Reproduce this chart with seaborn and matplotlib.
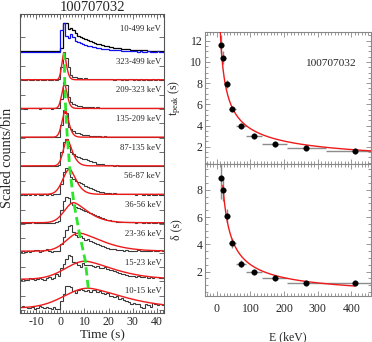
import numpy as np
import matplotlib
matplotlib.use("Agg")
import matplotlib.pyplot as plt
from matplotlib.ticker import MultipleLocator, AutoMinorLocator, FixedLocator, NullFormatter
import seaborn as sns

# ---------------- data ----------------
grb_id = "100707032"
t_start, t_stop, t_bin = -17, 43, 1

total_label = "10-499 keV"
band_labels = ["10-15 keV", "15-23 keV", "23-36 keV", "36-56 keV", "56-87 keV",
               "87-135 keV", "135-209 keV", "209-323 keV", "323-499 keV"]
E_lo = [10, 15, 23, 36, 56, 87, 135, 209, 323]
E_hi = [15, 23, 36, 56, 87, 135, 209, 323, 499]

lc_total = [0.02, 0.03, 0.02, 0.01, 0.03, 0.02, 0.02, 0.03, 0.01, 0.02, 0.03, 0.02, 0.02, 0.01, 0.03, 0.02, 0.03,
            0.12, 1.0, 0.98, 0.80, 0.83, 0.76, 0.65, 0.56, 0.52, 0.47, 0.43, 0.40, 0.37, 0.33, 0.31, 0.28, 0.26,
            0.23, 0.21, 0.19, 0.17, 0.15, 0.14, 0.12, 0.11, 0.10, 0.09, 0.08, 0.08, 0.07, 0.06, 0.06, 0.05, 0.05,
            0.04, 0.04, 0.03, 0.03, 0.03, 0.02, 0.03, 0.02, 0.02]
lc_total_blue = [-0.01, -0.02, -0.01, -0.01, -0.02, -0.01, -0.02, -0.01, -0.01, -0.02, -0.01, -0.01, -0.02, -0.01,
                 -0.01, -0.02, -0.01,
                 0.76, 1.0, 0.55, 0.48, 0.62, 0.50, 0.38, 0.33, 0.29, 0.25, 0.22, 0.20, 0.18, 0.16, 0.15, 0.13,
                 0.12, 0.10, 0.09, 0.08, 0.07, 0.06, 0.05, 0.04, 0.04, 0.03, 0.03, 0.02, 0.02, 0.01,
                 0.01, 0.01, 0.0, 0.01, 0.0, 0.0, 0.01, 0.0, 0.0, 0.0, 0.01, 0.0, 0.0]

lc_10_15 = [0.12, 0.15, 0.10, 0.08, 0.06, 0.12, 0.05, 0.08, 0.15, 0.10, 0.06, 0.12, 0.08, 0.04, 0.10, 0.02, 0.05,
            0.30, 0.55, 0.82, 0.85, 0.80, 0.65, 0.60, 0.70, 0.72, 0.68, 0.66, 0.70, 0.64, 0.68, 0.70, 0.62, 0.66,
            0.60, 0.55, 0.58, 0.50, 0.47, 0.44, 0.48, 0.40, 0.42, 0.35, 0.30, 0.28, 0.22, 0.25, 0.20, 0.22, 0.12,
            0.06, 0.22, 0.18, 0.12, 0.25, 0.20, 0.16, 0.20, 0.18]
lc_15_23 = [0.05, 0.08, 0.04, 0.06, 0.10, 0.07, 0.05, 0.09, 0.12, 0.08, 0.06, 0.10, 0.15, 0.09, 0.12, 0.27, 0.20,
            0.45, 0.60, 0.78, 0.92, 0.88, 0.68, 0.62, 0.55, 0.50, 0.62, 0.58, 0.55, 0.57, 0.54, 0.50, 0.52, 0.47,
            0.45, 0.48, 0.42, 0.38, 0.40, 0.35, 0.32, 0.30, 0.27, 0.25, 0.22, 0.20, 0.18, 0.20, 0.16, 0.18, 0.14,
            0.15, 0.20, 0.13, 0.15, 0.12, 0.14, 0.16, 0.12, 0.13]
lc_23_36 = [0.03, 0.05, 0.02, 0.04, 0.03, 0.06, 0.10, 0.08, 0.03, 0.05, 0.10, 0.12, 0.04, 0.03, 0.06, 0.05, 0.04,
            0.30, 0.55, 0.80, 0.92, 0.95, 0.70, 0.62, 0.55, 0.58, 0.50, 0.45, 0.48, 0.40, 0.38, 0.34, 0.30, 0.28,
            0.22, 0.20, 0.17, 0.14, 0.12, 0.13, 0.10, 0.09, 0.10, 0.07, 0.08, 0.06, 0.07, 0.05, 0.06, 0.08, 0.05,
            0.07, 0.06, 0.04, 0.06, 0.10, 0.07, 0.05, 0.08, 0.06]
lc_36_56 = [0.03, 0.02, 0.04, 0.02, 0.03, 0.05, 0.02, 0.03, 0.04, 0.02, 0.03, 0.04, 0.03, 0.02, 0.04, 0.05, 0.10,
            0.50, 0.80, 0.92, 0.90, 0.74, 0.65, 0.60, 0.56, 0.52, 0.48, 0.45, 0.42, 0.37, 0.33, 0.30, 0.27, 0.24,
            0.20, 0.17, 0.15, 0.12, 0.10, 0.09, 0.08, 0.08, 0.07, 0.06, 0.07, 0.05, 0.06, 0.05, 0.04, 0.05, 0.06,
            0.04, 0.05, 0.04, 0.05, 0.04, 0.04, 0.05, 0.04, 0.04]
lc_56_87 = [0.02, 0.03, 0.01, 0.03, 0.02, 0.04, 0.02, 0.03, 0.02, 0.01, 0.03, 0.02, 0.04, 0.02, 0.03, 0.03, 0.05,
            0.40, 0.80, 0.95, 0.90, 0.62, 0.55, 0.50, 0.47, 0.44, 0.38, 0.33, 0.30, 0.25, 0.20, 0.17, 0.15, 0.12,
            0.10, 0.08, 0.07, 0.06, 0.05, 0.06, 0.04, 0.05, 0.04, 0.03, 0.04, 0.03, 0.04, 0.03, 0.02, 0.03, 0.03,
            0.02, 0.03, 0.02, 0.03, 0.02, 0.02, 0.03, 0.02, 0.02]
lc_87_135 = [0.02, 0.03, 0.02, 0.01, 0.03, 0.02, 0.02, 0.03, 0.01, 0.02, 0.03, 0.02, 0.02, 0.03, 0.02, 0.03, 0.04,
             0.50, 0.85, 0.96, 0.70, 0.50, 0.42, 0.35, 0.32, 0.30, 0.27, 0.25, 0.22, 0.20, 0.17, 0.14, 0.10, 0.08,
             0.07, 0.06, 0.05, 0.04, 0.05, 0.03, 0.04, 0.03, 0.03, 0.02, 0.03, 0.02, 0.03, 0.02, 0.02, 0.03, 0.02,
             0.02, 0.03, 0.02, 0.02, 0.01, 0.02, 0.02, 0.01, 0.02]
lc_135_209 = [0.02, 0.01, 0.03, 0.02, 0.02, 0.03, 0.01, 0.02, 0.03, 0.02, 0.01, 0.02, 0.03, 0.02, 0.02, 0.01, 0.03,
              0.45, 0.97, 0.85, 0.36, 0.30, 0.22, 0.18, 0.15, 0.13, 0.11, 0.09, 0.08, 0.07, 0.06, 0.06, 0.05, 0.05,
              0.04, 0.05, 0.04, 0.03, 0.04, 0.03, 0.03, 0.02, 0.03, 0.04, 0.02, 0.03, 0.02, 0.03, 0.03, 0.02, 0.03,
              0.02, 0.02, 0.03, 0.02, 0.02, 0.03, 0.02, 0.02, 0.03]
lc_209_323 = [0.02, 0.03, 0.01, 0.02, 0.03, 0.02, 0.04, 0.02, 0.01, 0.03, 0.02, 0.02, 0.03, 0.01, 0.02, 0.03, 0.04,
              0.35, 0.95, 0.82, 0.42, 0.24, 0.16, 0.13, 0.11, 0.09, 0.08, 0.07, 0.08, 0.06, 0.07, 0.05, 0.06, 0.05,
              0.04, 0.05, 0.04, 0.03, 0.04, 0.03, 0.02, 0.04, 0.03, 0.02, 0.03, 0.03, 0.02, 0.04, 0.02, 0.03, 0.02,
              0.03, 0.03, 0.02, 0.03, 0.02, 0.02, 0.03, 0.02, 0.03]
lc_323_499 = [0.03, 0.01, 0.02, 0.04, 0.02, 0.01, 0.03, 0.02, 0.04, 0.01, 0.02, 0.03, 0.02, 0.01, 0.03, 0.02, 0.05,
              0.45, 0.97, 0.78, 0.45, 0.20, 0.12, 0.10, 0.08, 0.07, 0.06, 0.07, 0.05, 0.06, 0.04, 0.05, 0.06, 0.04,
              0.05, 0.03, 0.04, 0.03, 0.04, 0.02, 0.03, 0.04, 0.02, 0.03, 0.02, 0.03, 0.04, 0.02, 0.03, 0.02, 0.03,
              0.02, 0.03, 0.02, 0.02, 0.03, 0.02, 0.03, 0.02, 0.02]
band_curves = [lc_10_15, lc_15_23, lc_23_36, lc_36_56, lc_56_87,
               lc_87_135, lc_135_209, lc_209_323, lc_323_499]

# pulse-fit results per band (low -> high energy)
t_peak = [11.6, 10.4, 7.9, 5.6, 3.95, 2.98, 2.25, 1.85, 1.62]
t_peak_err = [0.9, 0.6, 0.35, 0.25, 0.2, 0.15, 0.12, 0.1, 0.1]
delta = [8.86, 8.0, 6.11, 4.08, 2.58, 1.95, 1.51, 1.18, 1.14]
delta_err = [1.5, 0.8, 0.5, 0.35, 0.25, 0.15, 0.12, 0.1, 0.1]
pulse_amp = [0.69, 0.63, 0.63, 0.70, 0.88, 0.92, 0.92, 0.85, 0.94]
pulse_bg = [0.07, 0.07, 0.05, 0.04, 0.03, 0.02, 0.02, 0.02, 0.02]
pulse_rise = [14.0, 11.5, 7.4, 5.4, 4.0, 2.4, 2.1, 1.7, 1.33]
pulse_decay = [21.0, 17.0, 13.5, 8.3, 3.8, 2.9, 1.9, 1.5, 1.35]

# power-law fits  y = A * E^-k
tpk_fit_A, tpk_fit_k, tpk_fit_range = 46.4, 0.549, (10, 460)
dlt_fit_A, dlt_fit_k, dlt_fit_range = 63.0, 0.70, (18, 410)

# ---------------- style ----------------
sns.set_theme(style="ticks")
plt.rcParams["font.family"] = ["Liberation Serif", "DejaVu Serif"]
plt.rcParams["mathtext.fontset"] = "custom"
plt.rcParams["mathtext.rm"] = "Liberation Serif"
plt.rcParams["mathtext.it"] = "Liberation Serif:italic"
plt.rcParams["axes.unicode_minus"] = False

W, H = 372, 342
fig = plt.figure(figsize=(W / 100, H / 100), dpi=100)


def fig_rect(x0, y0, x1, y1):
    return [x0 / W, 1 - y1 / H, (x1 - x0) / W, (y1 - y0) / H]


frame_col = "#555555"
right_col = "#888888"
red = "#ee1a1a"

# ---------------- left panel ----------------
axL = fig.add_axes(fig_rect(20, 14, 164, 313))
edges = np.arange(t_start, t_stop + t_bin, t_bin)
n_b = len(band_curves)
off_total = n_b

axL.stairs(np.array(lc_total) + off_total, edges, baseline=None, color="black", lw=0.9)
axL.stairs(np.array(lc_total_blue) + off_total, edges, baseline=None, color="#1010ee", lw=0.9)
axL.text(41.9, off_total + 0.8, total_label, ha="right", va="center", fontsize=6.2)

tt = np.linspace(t_start, t_stop, 500)
peak_y = []
for k in range(n_b):
    axL.stairs(np.array(band_curves[k]) + k, edges, baseline=None, color="#3a3a3a", lw=0.8)
    d = tt - t_peak[k]
    shape = np.where(d < 0, np.exp(-(np.abs(d) / pulse_rise[k]) ** 2),
                     np.exp(-(np.abs(d) / pulse_decay[k]) ** 1.5))
    sns.lineplot(x=tt, y=k + pulse_bg[k] + pulse_amp[k] * shape, ax=axL, color=red, lw=1.0,
                 sort=False, estimator=None)
    peak_y.append(k + pulse_bg[k] + pulse_amp[k])
    axL.text(41.9, k + 0.65, band_labels[k], ha="right", va="center", fontsize=6.2)

sns.lineplot(x=t_peak, y=peak_y, ax=axL, color="#2ce62c", lw=2.0, sort=False, estimator=None,
             dashes=False, linestyle=(0, (3, 1.6)))

axL.set_xlim(-16.7, 43)
axL.set_ylim(-0.105, n_b + 1.31)
axL.xaxis.set_major_locator(MultipleLocator(10))
axL.xaxis.set_minor_locator(AutoMinorLocator(8))
yt = []
for k in range(n_b + 1):
    yt += [k, k + 0.5]
axL.yaxis.set_major_locator(FixedLocator(yt))
axL.yaxis.set_major_formatter(NullFormatter())
axL.tick_params(axis="both", which="both", direction="in", top=True, right=True,
                color=frame_col, width=0.6, labelsize=8.5, pad=2)
axL.tick_params(which="major", length=3.5)
axL.tick_params(which="minor", length=2)
for s in axL.spines.values():
    s.set_color(frame_col)
    s.set_linewidth(0.8)
axL.set_xlabel("")
axL.set_ylabel("")

fig.text(92 / W, 1 - 7.5 / H, grb_id, ha="center", va="center", fontsize=10.5)
fig.text(8 / W, 1 - 158 / H, "Scaled counts/bin", rotation=90, ha="center", va="center", fontsize=10.2)
fig.text(102 / W, 1 - 335.5 / H, "Time (s)", ha="center", va="center", fontsize=9.5)

# ---------------- right panels ----------------
E_mid = [(lo + hi) / 2 for lo, hi in zip(E_lo, E_hi)]
E_half = [(hi - lo) / 2 for lo, hi in zip(E_lo, E_hi)]

axT = fig.add_axes(fig_rect(205, 32, 371, 164))
axB = fig.add_axes(fig_rect(205, 164, 371, 296), sharex=axT)

for ax, yv, ye, (A, kk, rng), ylim, ylab in [
        (axT, t_peak, t_peak_err, (tpk_fit_A, tpk_fit_k, tpk_fit_range), (0.37, 12.82),
         "t$_{\\mathrm{peak}}$ (s)"),
        (axB, delta, delta_err, (dlt_fit_A, dlt_fit_k, dlt_fit_range), (0.2, 9.9), "δ (s)")]:
    ax.errorbar(E_mid, yv, xerr=E_half, yerr=ye, fmt="none", ecolor="#8c8c8c", elinewidth=1.0,
                capsize=0, zorder=2)
    Ef = np.linspace(rng[0], rng[1], 300)
    sns.lineplot(x=Ef, y=A * Ef ** (-kk), ax=ax, color=red, lw=1.0, sort=False, estimator=None, zorder=3)
    sns.scatterplot(x=E_mid, y=yv, ax=ax, color="black", s=16, edgecolor="black", linewidth=0.3, zorder=4)
    ax.set_ylim(*ylim)
    ax.set_xlim(-35, 458)
    ax.xaxis.set_major_locator(MultipleLocator(100))
    ax.xaxis.set_minor_locator(AutoMinorLocator(10))
    ax.yaxis.set_major_locator(MultipleLocator(2))
    ax.yaxis.set_minor_locator(AutoMinorLocator(4))
    ax.tick_params(axis="both", which="both", direction="in", top=True, right=True,
                   color=right_col, width=0.6, labelsize=8.5, pad=2)
    ax.tick_params(which="major", length=3.5)
    ax.tick_params(which="minor", length=2)
    for s in ax.spines.values():
        s.set_color(right_col)
        s.set_linewidth(0.8)
    ax.set_xlabel("")
    ax.set_ylabel(ylab, fontsize=8.5)
    ax.yaxis.set_label_coords(-0.135, 0.5)

axT.tick_params(axis="x", labelbottom=False)
axB.tick_params(axis="x", pad=5)
axT.text(0.753, 0.765, grb_id, transform=axT.transAxes, ha="center", va="center", fontsize=8.2)
fig.text(288 / W, 1 - 337 / H, "E (keV)", ha="center", va="center", fontsize=8.5)

fig.savefig("out.png", dpi=100)
